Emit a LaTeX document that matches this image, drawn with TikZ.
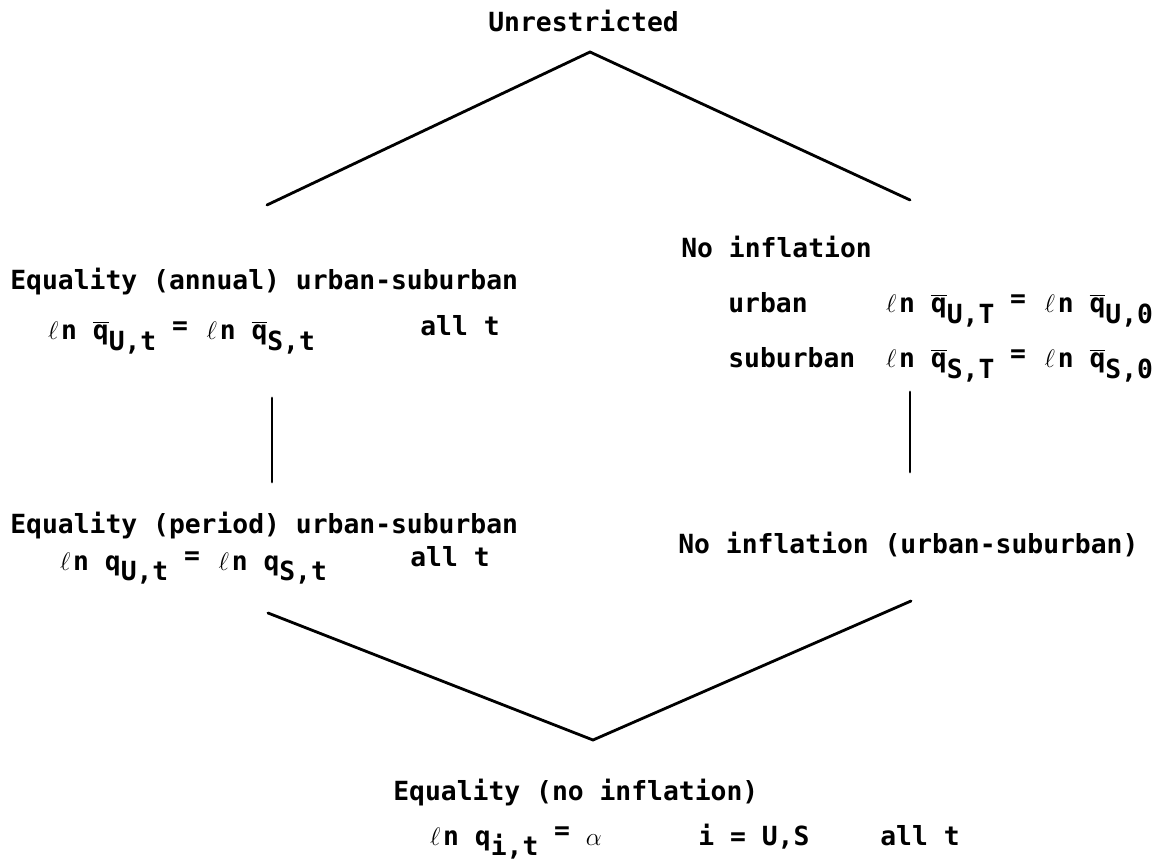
\documentclass[tikz,border=0pt]{standalone}
\usepackage{fontspec}
\setmainfont{DejaVu Sans Mono}[BoldFont={DejaVu Sans Mono Bold}]
\setmonofont{DejaVu Sans Mono}
\usetikzlibrary{positioning}

\newcommand{\lnn}{\makebox[0.6em]{$\ell$}n}
\newcommand{\qb}{$\overline{\mbox{q}}$}
\newcommand{\lowsub}[1]{\raisebox{-0.75ex}{#1}}
\newcommand{\eqr}{\raisebox{0.35ex}{=}}

\begin{document}
\begin{tikzpicture}[x=0.02cm, y=-0.02cm]
    \tikzset{
        lbl/.style={inner sep=0pt, anchor=base west, font=\fontsize{15}{18}\selectfont\bfseries},
        link/.style={line width=1.6pt, line cap=round}
    }
    \useasboundingbox (0,0) rectangle (1172,864);

    % top
    \node[lbl] (unres) at (488,32) {Unrestricted};

    % left branch
    \node[lbl] (annual) at (10,290) {Equality (annual) urban-suburban};
    \node[lbl] (annualeq) at (45,340) {\lnn{} \qb\lowsub{U,t} \eqr{} \lnn{} \qb\lowsub{S,t}};
    \node[lbl] (annualall) at (420,336) {all t};
    \node[lbl] (period) at (10,533) {Equality (period) urban-suburban};
    \node[lbl] (periodeq) at (57,570) {\lnn{} q\lowsub{U,t} \eqr{} \lnn{} q\lowsub{S,t}};
    \node[lbl] (periodall) at (410,566) {all t};

    % right branch
    \node[lbl] (noinf) at (681,258) {No inflation};
    \node[lbl] (urban) at (728,313) {urban};
    \node[lbl] (urbaneq) at (883,313) {\lnn{} \qb\lowsub{U,T} \eqr{} \lnn{} \qb\lowsub{U,0}};
    \node[lbl] (suburban) at (728,368) {suburban};
    \node[lbl] (suburbaneq) at (883,368) {\lnn{} \qb\lowsub{S,T} \eqr{} \lnn{} \qb\lowsub{S,0}};
    \node[lbl] (noinfus) at (678,553) {No inflation (urban-suburban)};

    % bottom
    \node[lbl] (eqnoinf) at (393,800) {Equality (no inflation)};
    \node[lbl] (eqnoinfeq) at (427,845) {\lnn{} q\lowsub{i,t} \eqr{} $\alpha$};
    \node[lbl] (eqnoinfi) at (698,845) {i = U,S};
    \node[lbl] (eqnoinfall) at (880,845) {all t};

    % line ends
    \coordinate (top) at (590,52);
    \coordinate (topl) at (267,205);
    \coordinate (topr) at (910,200);
    \coordinate (midlt) at (272,398);
    \coordinate (midlb) at (272,482);
    \coordinate (midrt) at (910,392);
    \coordinate (midrb) at (910,472);
    \coordinate (botl) at (268,613);
    \coordinate (botr) at (911,601);
    \coordinate (bot) at (593,740);

    \draw[link] (topl) -- (top) -- (topr);
    \draw[link] (midlt) -- (midlb);
    \draw[link] (midrt) -- (midrb);
    \draw[link] (botl) -- (bot) -- (botr);
\end{tikzpicture}
\end{document}
